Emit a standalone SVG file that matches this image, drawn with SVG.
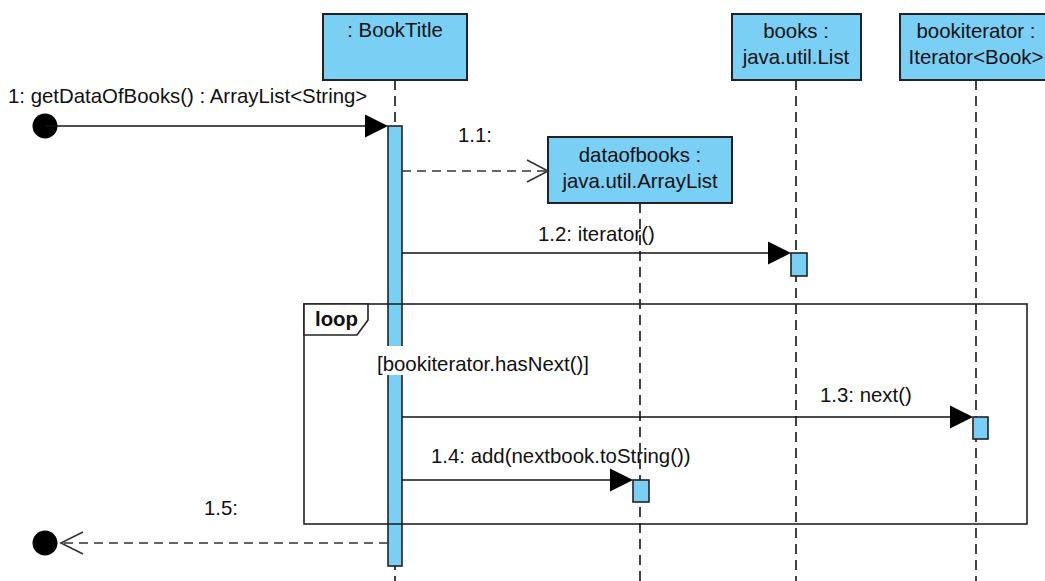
<svg xmlns="http://www.w3.org/2000/svg" width="1045" height="581" viewBox="0 0 1045 581">
<defs>
<style>
text{font-family:"Liberation Sans",Arial,sans-serif;font-size:20.4px;fill:#111}
.head{fill:#7ACFF5;stroke:#222;stroke-width:2}
.life{stroke:#111;stroke-width:1.6;stroke-dasharray:10 6;fill:none}
.act{fill:#7ACFF5;stroke:#222;stroke-width:1.6}
.msg{stroke:#111;stroke-width:1.6;fill:none}
.ret{stroke:#333;stroke-width:1.6;fill:none;stroke-dasharray:9 6}
.open{stroke:#333;stroke-width:1.6;fill:none}
.c{text-anchor:middle}
</style>
</defs>
<rect width="1045" height="581" fill="#fff"/>
<g id="lifelines">
<line class="life" x1="395" y1="80" x2="395" y2="581"/>
<line class="life" x1="796" y1="80" x2="796" y2="581"/>
<line class="life" x1="976" y1="80" x2="976" y2="581"/>
<line class="life" x1="640" y1="203" x2="640" y2="581"/>
</g>
<g id="booktitle">
<rect class="head" x="323" y="14" width="144" height="66"/>
<text class="c" x="395" y="37">: BookTitle</text>
<rect class="act" x="388" y="126" width="14" height="440"/>
</g>
<g id="books">
<rect class="head" x="732" y="14" width="129" height="66"/>
<text class="c" x="796" y="38">books :</text>
<text class="c" x="796" y="64">java.util.List</text>
<rect class="act" x="791" y="253" width="16" height="23"/>
</g>
<g id="bookiterator">
<rect class="head" x="900" y="14" width="152" height="66"/>
<text class="c" x="976" y="38">bookiterator :</text>
<text class="c" x="976" y="64">Iterator&lt;Book&gt;</text>
<rect class="act" x="973" y="417" width="15" height="22"/>
</g>
<g id="dataofbooks">
<rect class="head" x="548" y="137" width="184" height="66"/>
<text class="c" x="640" y="162">dataofbooks :</text>
<text class="c" x="640" y="188">java.util.ArrayList</text>
<rect class="act" x="633" y="480" width="16" height="22"/>
</g>
<g id="loop">
<rect x="304" y="304" width="723" height="220" fill="none" stroke="#222" stroke-width="1.6"/>
<path d="M304 304 H368 V320 L357 335 H304 Z" fill="#fff" stroke="#222" stroke-width="1.6"/>
<text x="315" y="326" style="font-weight:bold">loop</text>
<rect x="376" y="346" width="220" height="29" fill="#fff"/>
<text x="377" y="371">[bookiterator.hasNext()]</text>
</g>
<g id="connectors">
<circle cx="45" cy="126" r="12.5" fill="#000"/>
<line class="msg" x1="45" y1="126" x2="370" y2="126"/>
<path d="M365 114.5 L388 126 L365 137.5 Z" fill="#000"/>
<text x="8" y="103">1: getDataOfBooks() : ArrayList&lt;String&gt;</text>

<line class="ret" x1="402" y1="171" x2="546" y2="171"/>
<path class="open" d="M527 160 L548 171 L527 182"/>
<text x="458" y="142">1.1:</text>

<line class="msg" x1="402" y1="253" x2="772" y2="253"/>
<path d="M768 241.5 L791 253 L768 264.5 Z" fill="#000"/>
<text x="538" y="241">1.2: iterator()</text>

<line class="msg" x1="402" y1="417" x2="954" y2="417"/>
<path d="M950 405.5 L973 417 L950 428.5 Z" fill="#000"/>
<text x="820" y="402">1.3: next()</text>

<line class="msg" x1="402" y1="480" x2="614" y2="480"/>
<path d="M610 468.5 L633 480 L610 491.5 Z" fill="#000"/>
<text x="431" y="463">1.4: add(nextbook.toString())</text>

<line class="ret" x1="388" y1="543" x2="62" y2="543"/>
<path class="open" d="M83 532 L61 543 L83 554"/>
<circle cx="45" cy="543" r="12.5" fill="#000"/>
<text x="204" y="515">1.5:</text>
</g>
</svg>
